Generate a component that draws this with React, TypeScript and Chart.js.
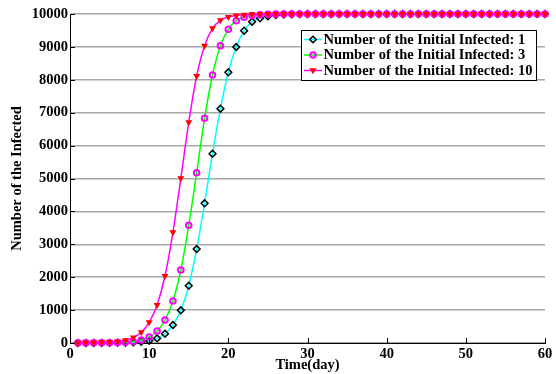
import React, { useEffect, useRef } from "react";
import { Chart, registerables } from "chart.js";

Chart.register(...registerables);

const days = [
  1, 2, 3, 4, 5, 6, 7, 8, 9, 10, 11, 12, 13, 14, 15, 16, 17, 18, 19, 20,
  21, 22, 23, 24, 25, 26, 27, 28, 29, 30, 31, 32, 33, 34, 35, 36, 37, 38, 39, 40,
  41, 42, 43, 44, 45, 46, 47, 48, 49, 50, 51, 52, 53, 54, 55, 56, 57, 58, 59, 60,
];

const infected1 = [
  1, 1, 2, 2, 3, 5, 9, 18, 36, 70, 140, 283, 547, 994, 1742, 2857, 4246, 5754, 7122, 8228,
  8997, 9493, 9767, 9869, 9934, 9967, 9983, 9992, 9996, 9998, 9999, 10000, 10000, 10000, 10000, 10000, 10000, 10000, 10000, 10000,
  10000, 10000, 10000, 10000, 10000, 10000, 10000, 10000, 10000, 10000, 10000, 10000, 10000, 10000, 10000, 10000, 10000, 10000, 10000, 10000,
];

const infected3 = [
  3, 3, 4, 6, 8, 12, 22, 45, 90, 182, 365, 699, 1277, 2219, 3577, 5176, 6830, 8146, 9036, 9535,
  9797, 9905, 9955, 9978, 9989, 9995, 9997, 9999, 10000, 10000, 10000, 10000, 10000, 10000, 10000, 10000, 10000, 10000, 10000, 10000,
  10000, 10000, 10000, 10000, 10000, 10000, 10000, 10000, 10000, 10000, 10000, 10000, 10000, 10000, 10000, 10000, 10000, 10000, 10000, 10000,
];

const infected10 = [
  10, 12, 15, 20, 28, 45, 85, 165, 325, 629, 1155, 2036, 3365, 5006, 6708, 8115, 9036, 9565, 9809, 9909,
  9955, 9978, 9990, 9995, 9998, 9999, 10000, 10000, 10000, 10000, 10000, 10000, 10000, 10000, 10000, 10000, 10000, 10000, 10000, 10000,
  10000, 10000, 10000, 10000, 10000, 10000, 10000, 10000, 10000, 10000, 10000, 10000, 10000, 10000, 10000, 10000, 10000, 10000, 10000, 10000,
];

const seriesLabels = [
  "Number of the Initial Infected: 1",
  "Number of the Initial Infected: 3",
  "Number of the Initial Infected: 10",
];

const xTicks = [0, 10, 20, 30, 40, 50, 60];
const yTicks = [0, 1000, 2000, 3000, 4000, 5000, 6000, 7000, 8000, 9000, 10000];

const FONT = "'Liberation Serif', 'Times New Roman', serif";

function drawMarker(ctx: CanvasRenderingContext2D, kind: string, x: number, y: number) {
  ctx.save();
  if (kind === "diamond") {
    ctx.strokeStyle = "#000000";
    ctx.lineWidth = 1.5;
    ctx.beginPath();
    ctx.moveTo(x, y - 3.3);
    ctx.lineTo(x + 3.3, y);
    ctx.lineTo(x, y + 3.3);
    ctx.lineTo(x - 3.3, y);
    ctx.closePath();
    ctx.stroke();
  } else if (kind === "circle") {
    ctx.strokeStyle = "#ff00ff";
    ctx.lineWidth = 2;
    ctx.beginPath();
    ctx.arc(x, y, 2.8, 0, Math.PI * 2);
    ctx.stroke();
  } else {
    ctx.fillStyle = "#ff0000";
    ctx.beginPath();
    ctx.moveTo(x - 3.6, y - 2.2);
    ctx.lineTo(x + 3.6, y - 2.2);
    ctx.lineTo(x, y + 3.8);
    ctx.closePath();
    ctx.fill();
  }
  ctx.restore();
}

const decorPlugin = {
  id: "decor",
  afterDatasetsDraw(chart: any) {
    const ctx = chart.ctx as CanvasRenderingContext2D;
    const xs = chart.scales.x;
    const ys = chart.scales.y;
    const area = chart.chartArea;
    ctx.save();
    ctx.strokeStyle = "#000000";
    ctx.lineWidth = 1;
    for (const v of xTicks) {
      const px = Math.round(xs.getPixelForValue(v)) + 0.5;
      ctx.beginPath();
      ctx.moveTo(px, area.bottom);
      ctx.lineTo(px, area.bottom - 5);
      ctx.stroke();
    }
    for (const v of yTicks) {
      const py = Math.round(ys.getPixelForValue(v)) + 0.5;
      ctx.beginPath();
      ctx.moveTo(area.left, py);
      ctx.lineTo(area.left + 5, py);
      ctx.stroke();
    }
    ctx.restore();
  },
  afterDraw(chart: any) {
    const ctx = chart.ctx as CanvasRenderingContext2D;
    ctx.save();
    const bx = 301, by = 30, bw = 235, bh = 50;
    ctx.fillStyle = "#ffffff";
    ctx.fillRect(bx, by, bw, bh);
    ctx.strokeStyle = "#000000";
    ctx.lineWidth = 1;
    ctx.strokeRect(bx + 0.5, by + 0.5, bw, bh);
    const rows = [
      { color: "#00ffff", marker: "diamond" },
      { color: "#00ff00", marker: "circle" },
      { color: "#ff00ff", marker: "triangle" },
    ];
    const rowY = [39.5, 55, 70.5];
    rows.forEach((r, i) => {
      const y = rowY[i];
      ctx.strokeStyle = r.color;
      ctx.lineWidth = 1.5;
      ctx.beginPath();
      ctx.moveTo(304, y);
      ctx.lineTo(322, y);
      ctx.stroke();
      drawMarker(ctx, r.marker, 313, y);
      ctx.fillStyle = "#000000";
      ctx.font = `bold 14.5px ${FONT}`;
      ctx.textAlign = "left";
      ctx.textBaseline = "middle";
      ctx.fillText(seriesLabels[i], 323.5, y + 0.5);
    });
    ctx.restore();
  },
};

export default function App() {
  const ref = useRef<HTMLCanvasElement | null>(null);

  useEffect(() => {
    document.body.style.margin = "0";
    const canvas = ref.current;
    if (!canvas) return;
    const toPts = (vals: number[]) => days.map((d, i) => ({ x: d, y: vals[i] }));
    const chart = new Chart(canvas, {
      type: "line",
      data: {
        datasets: [
          {
            label: seriesLabels[0],
            data: toPts(infected1),
            borderColor: "#00ffff",
            borderWidth: 1.5,
            pointStyle: "rectRot",
            pointRadius: 3.4,
            pointBorderWidth: 1.5,
            pointBorderColor: "#000000",
            pointBackgroundColor: "rgba(0,0,0,0)",
            cubicInterpolationMode: "monotone",
            clip: false,
            order: 3,
          },
          {
            label: seriesLabels[1],
            data: toPts(infected3),
            borderColor: "#00ff00",
            borderWidth: 1.5,
            pointStyle: "circle",
            pointRadius: 2.8,
            pointBorderWidth: 2,
            pointBorderColor: "#ff00ff",
            pointBackgroundColor: "rgba(0,0,0,0)",
            cubicInterpolationMode: "monotone",
            clip: false,
            order: 2,
          },
          {
            label: seriesLabels[2],
            data: toPts(infected10),
            borderColor: "#ff00ff",
            borderWidth: 1.5,
            pointStyle: "triangle",
            pointRotation: 180,
            pointRadius: 4,
            pointBorderWidth: 0,
            pointBorderColor: "#ff0000",
            pointBackgroundColor: "#ff0000",
            cubicInterpolationMode: "monotone",
            clip: false,
            order: 1,
          },
        ] as any,
      },
      options: {
        animation: false,
        responsive: false,
        devicePixelRatio: 1,
        layout: { padding: { top: 14, right: 11, left: 0, bottom: 0 } },
        plugins: {
          legend: { display: false },
          tooltip: { enabled: false },
        },
        scales: {
          x: {
            type: "linear",
            min: 0,
            max: 60,
            afterFit: (s: any) => {
              s.height = 31;
            },
            afterBuildTicks: (s: any) => {
              s.ticks = xTicks.map((v) => ({ value: v }));
            },
            grid: { display: false, drawTicks: false },
            border: { display: true, color: "#000000", width: 1 },
            ticks: {
              color: "#000000",
              padding: 3,
              maxRotation: 0,
              callback: (v: any) => String(v),
              font: { family: FONT, size: 14.5, weight: "bold" },
            },
            title: {
              display: true,
              text: "Time(day)",
              color: "#000000",
              font: { family: FONT, size: 14.5, weight: "bold" },
              padding: { top: 0, bottom: 0 },
            },
          },
          y: {
            type: "linear",
            min: 0,
            max: 10000,
            afterFit: (s: any) => {
              s.width = 70;
            },
            afterBuildTicks: (s: any) => {
              s.ticks = yTicks.map((v) => ({ value: v }));
            },
            grid: { display: true, color: "#a8a8a8", lineWidth: 1.5, drawTicks: false },
            border: { display: true, color: "#000000", width: 1 },
            ticks: {
              color: "#000000",
              padding: 2,
              callback: (v: any) => String(v),
              font: { family: FONT, size: 14.5, weight: "bold" },
            },
            title: {
              display: true,
              text: "Number of the Infected",
              color: "#000000",
              font: { family: FONT, size: 14.5, weight: "bold" },
              padding: { top: 9, bottom: 0 },
            },
          },
        },
      },
      plugins: [decorPlugin],
    } as any);
    return () => chart.destroy();
  }, []);

  return (
    <div style={{ width: 556, height: 374 }}>
      <canvas ref={ref} width={556} height={374} style={{ display: "block", width: 556, height: 374 }} />
    </div>
  );
}
